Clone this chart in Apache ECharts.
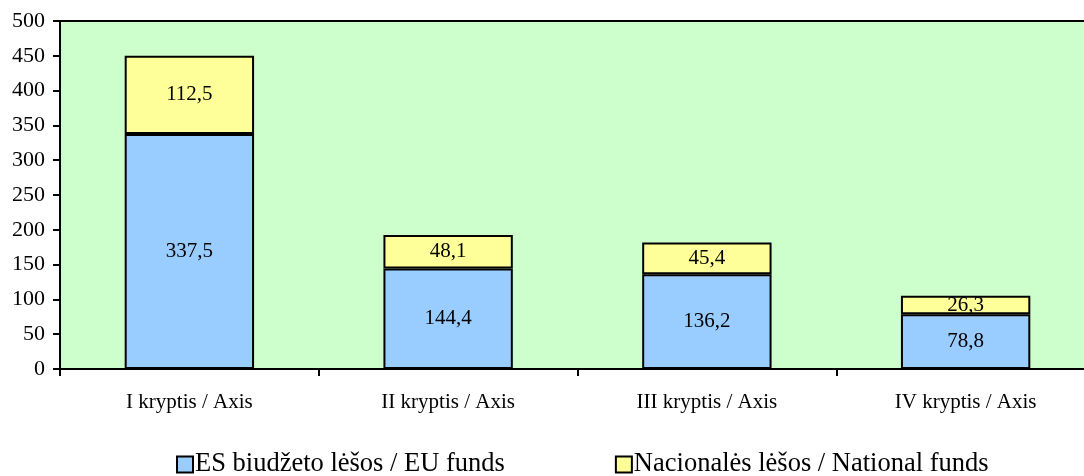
<!DOCTYPE html>
<html>
<head>
<meta charset="utf-8">
<script src="https://cdn.jsdelivr.net/npm/echarts@6/dist/echarts.min.js"></script>
<style>
  html, body { margin: 0; padding: 0; background: #fff; }
  #main { width: 1084px; height: 476px; }
</style>
</head>
<body>
<div id="main"></div>
<script>
// kategorijos ir reikšmės
const categories = ['I kryptis / Axis', 'II kryptis / Axis', 'III kryptis / Axis', 'IV kryptis / Axis'];
const euFunds = [337.5, 144.4, 136.2, 78.8];
const nationalFunds = [112.5, 48.1, 45.4, 26.3];
const seriesNames = ['ES biudžeto lėšos / EU funds', 'Nacionalės lėšos / National funds'];

const fontFam = '"Liberation Serif", "DejaVu Serif", serif';
const fmt = function (p) {
  return String(p.value).replace('.', ',');
};

const myChart = echarts.init(document.getElementById('main'));
const option = {
  animation: false,
  textStyle: { fontFamily: fontFam },
  grid: {
    left: 60, width: 1035, top: 21, bottom: 107,
    outerBoundsMode: 'none',
    containLabel: false,
    show: true,
    backgroundColor: '#CCFFCC',
    borderColor: '#000',
    borderWidth: 2
  },
  legend: {
    bottom: -7,
    left: 171,
    itemWidth: 16,
    itemHeight: 16,
    itemGap: 110,
    icon: 'rect',
    textStyle: { fontFamily: fontFam, fontSize: 26.5, color: '#000', padding: [0, 0, 0, -3] },
    data: seriesNames
  },
  xAxis: {
    type: 'category',
    data: categories,
    axisLine: { lineStyle: { color: '#000', width: 2 } },
    axisTick: { show: true, alignWithLabel: false, length: 7, lineStyle: { color: '#000', width: 2 } },
    axisLabel: { color: '#000', fontSize: 21, margin: 23, fontFamily: fontFam }
  },
  yAxis: {
    type: 'value',
    min: 0,
    max: 500,
    interval: 50,
    splitLine: { show: false },
    axisLine: { show: true, lineStyle: { color: '#000', width: 2 } },
    axisTick: { show: true, length: 7, lineStyle: { color: '#000', width: 2 } },
    axisLabel: { color: '#000', fontSize: 22, margin: 15, fontFamily: fontFam }
  },
  series: [
    {
      name: seriesNames[0],
      type: 'bar',
      stack: 'total',
      barWidth: '50%',
      data: euFunds,
      itemStyle: { color: '#99CCFF', borderColor: '#000', borderWidth: 2 },
      label: { show: true, position: 'inside', color: '#000', fontSize: 21, fontFamily: fontFam, formatter: fmt }
    },
    {
      name: seriesNames[1],
      type: 'bar',
      stack: 'total',
      barWidth: '50%',
      data: nationalFunds,
      itemStyle: { color: '#FFFF99', borderColor: '#000', borderWidth: 2 },
      label: { show: true, position: 'inside', color: '#000', fontSize: 21, fontFamily: fontFam, formatter: fmt }
    }
  ]
};
myChart.setOption(option);
</script>
</body>
</html>
